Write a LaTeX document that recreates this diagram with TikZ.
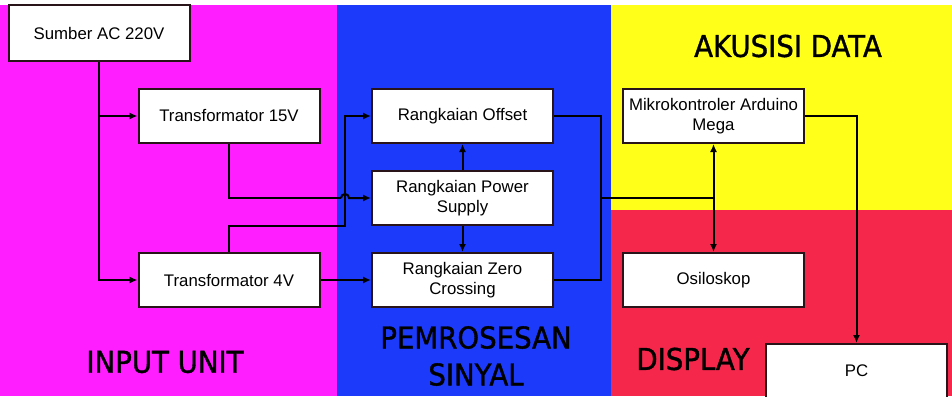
\documentclass[tikz,border=0pt]{standalone}
\usepackage{fontspec}
\setmainfont{Liberation Sans}
\newfontfamily\titlefont[FakeStretch=0.92,FakeBold=1.2]{DejaVu Sans}
\usetikzlibrary{arrows.meta}
\definecolor{bgmag}{RGB}{255,30,255}
\definecolor{bgblue}{RGB}{27,58,250}
\definecolor{bgyel}{RGB}{255,255,26}
\definecolor{bgred}{RGB}{245,40,76}
\definecolor{edge}{RGB}{40,20,25}
\tikzset{
  blockbox/.style={draw=edge, line width=2pt, fill=white, minimum width=181pt,
    minimum height=54pt, inner sep=2pt, align=center, font=\fontsize{16.8}{19.5}\selectfont},
  conn/.style={draw=black, line width=2pt},
  arr/.style={conn, -{Latex[length=8pt,width=7pt]}},
  titletext/.style={font=\titlefont\fontsize{30}{37}\selectfont, text=black, align=center, inner sep=0pt}
}
\begin{document}
\begin{tikzpicture}[x=1pt,y=-1pt]
\useasboundingbox (0,0) rectangle (952,396);
\clip (0,0) rectangle (952,396);
% background regions
\fill[bgmag] (0,0) rectangle (337,396);
\fill[bgblue] (337,0) rectangle (611,396);
\fill[bgyel] (611,0) rectangle (952,210);
\fill[bgred] (611,210) rectangle (952,396);
\fill[white] (0,0) rectangle (952,5);
% titles
\node[titletext] (tin) at (165,362) {INPUT UNIT};
\node[titletext] (tps) at (476,356) {PEMROSESAN\\SINYAL};
\node[titletext] (tak) at (788,46) {AKUSISI DATA};
\node[titletext] (tdi) at (693,359) {DISPLAY};
% blocks
\node[blockbox] (src) at (99,33) [minimum height=56pt] {Sumber AC 220V};
\node[blockbox] (t15) at (229,116) {Transformator 15V};
\node[blockbox] (t4) at (229,280) {Transformator 4V};
\node[blockbox] (off) at (462.5,116) {Rangkaian Offset};
\node[blockbox] (ps) at (462.5,198) {Rangkaian Power\\Supply};
\node[blockbox] (zc) at (462.5,280) {Rangkaian Zero\\Crossing};
\node[blockbox] (mcu) at (713.5,116) {Mikrokontroler Arduino\\Mega};
\node[blockbox] (osc) at (713.5,280) {Osiloskop};
\node[blockbox] (pc) at (856.5,371) {PC};
% helper coordinates
\coordinate (jl) at (341,198);
\coordinate (bend) at (345,226);
\coordinate (bus) at (601,198);
\coordinate (split) at (713.5,198);
% connectors
\draw[arr] (src.south) |- (t4.west);
\draw[arr] (src.south |- t15.west) -- (t15.west);
\draw[conn] (t15.south) |- (jl);
\draw[arr] (jl) arc[start angle=180,end angle=0,radius=4pt] -- (ps.west);
\draw[arr] (t4.north) |- (bend) |- (off.west);
\draw[arr] (t4.east) -- (zc.west);
\draw[arr] (ps.north) -- (off.south);
\draw[arr] (ps.south) -- (zc.north);
\draw[conn] (off.east) -| (bus) |- (zc.east);
\draw[conn] (bus) -- (split);
\draw[arr] (split) -- (mcu.south);
\draw[arr] (split) -- (osc.north);
\draw[arr] (mcu.east) -| (pc.north);
\end{tikzpicture}
\end{document}
